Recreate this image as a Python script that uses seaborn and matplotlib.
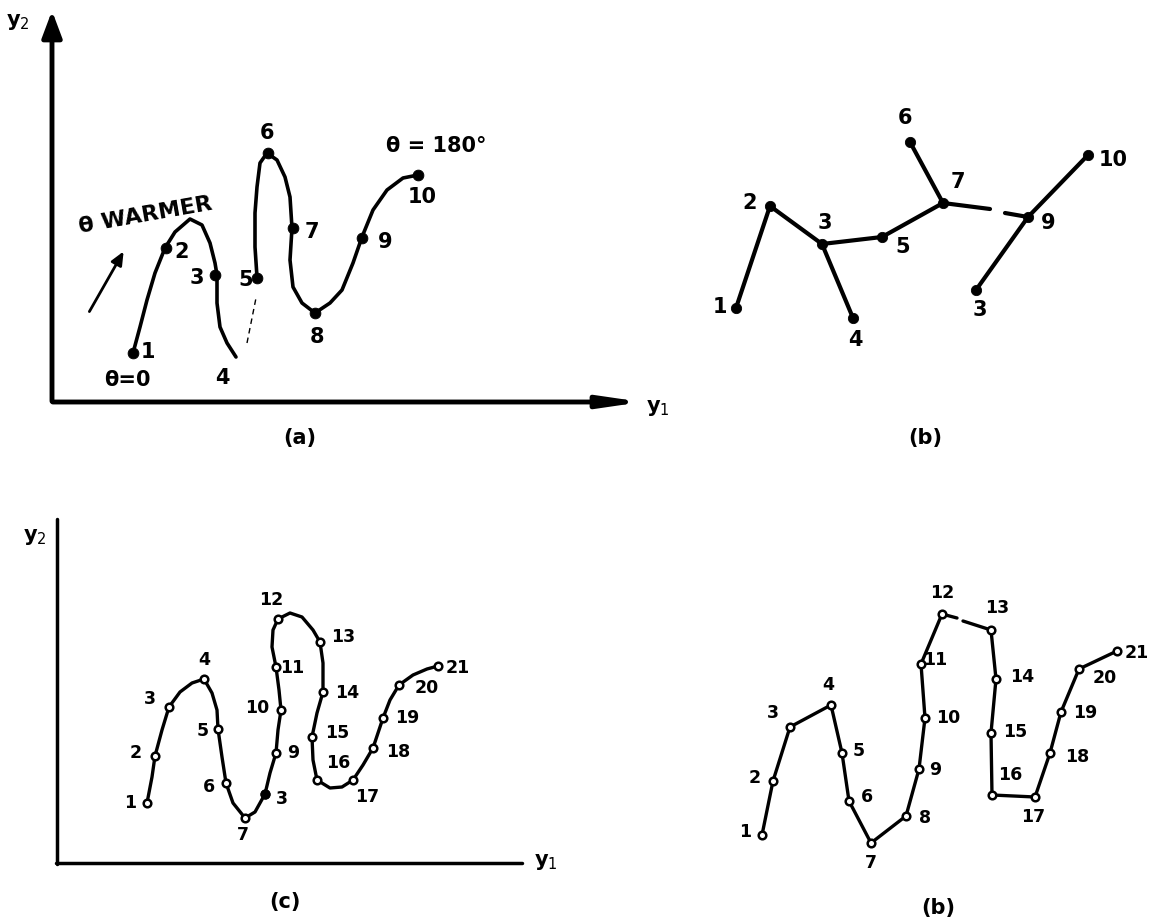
'''
Recreates the four-panel sketch of y1-y2 trajectories (a, b, c, b)
'''
import pandas as pd
import seaborn as sns
import matplotlib.pyplot as plt

# ---- panel (a): smooth trajectory with 10 labelled samples ----
a_pts_x = [133, 166, 215, 257, 268, 293, 315, 362, 418]
a_pts_y = [353, 248, 275, 278, 153, 228, 313, 238, 175]
a_curve1_x = [133, 140, 147, 155, 165, 175, 190, 202, 210, 215, 217, 217, 220, 227, 236]
a_curve1_y = [353, 327, 300, 273, 248, 232, 219, 225, 243, 263, 275, 303, 327, 343, 357]
a_curve2_x = [257, 255, 255, 257, 260, 267, 277, 285, 290, 292, 290, 293, 302, 315, 330, 342, 353, 362,
              373, 387, 403, 418]
a_curve2_y = [277, 247, 213, 187, 163, 153, 160, 177, 197, 228, 260, 287, 303, 313, 303, 290, 263, 237,
              210, 190, 178, 175]
a_labels = ['1', '2', '3', '4', '5', '6', '7', '8', '9', '10']
a_lab_x = [148, 182, 197, 222, 246, 267, 312, 317, 385, 422]
a_lab_y = [352, 252, 278, 378, 280, 133, 232, 337, 242, 197]

# ---- panel (b) top: tree graph ----
bt_nodes_x = [736, 770, 822, 853, 882, 910, 943, 1028, 1088, 976]
bt_nodes_y = [308, 206, 244, 318, 237, 142, 203, 217, 155, 290]
bt_edges = [(0, 1), (1, 2), (2, 3), (2, 4), (4, 6), (5, 6), (7, 8), (7, 9)]
bt_stub_x = [[943, 990], [1005, 1028]]
bt_stub_y = [[203, 209], [213, 217]]
bt_labels = ['1', '2', '3', '4', '5', '6', '7', '9', '10', '3']
bt_lab_x = [720, 750, 825, 855, 903, 905, 958, 1048, 1113, 980]
bt_lab_y = [307, 203, 223, 340, 247, 118, 182, 223, 160, 310]

# ---- panel (c): smooth trajectory with 21 samples ----
c_pts_x = [147, 155, 169, 204, 218, 226, 245, 265, 276, 281, 276, 278, 320, 323, 312, 317, 353, 373,
           383, 399, 438]
c_pts_y = [803, 756, 707, 679, 729, 783, 818, 794, 753, 710, 667, 619, 642, 692, 737, 780, 780, 748,
           718, 685, 666]
c_curve_x = [147, 152, 155, 162, 169, 180, 192, 204, 212, 217, 218, 222, 226, 233, 245, 255, 265, 270,
             276, 278, 281, 279, 276, 272, 273, 278, 290, 302, 313, 320, 323, 323, 317, 312, 313, 317,
             330, 342, 353, 363, 373, 378, 383, 390, 399, 413, 427, 438]
c_curve_y = [803, 777, 756, 730, 707, 692, 683, 679, 693, 710, 729, 757, 783, 803, 818, 812, 794, 773,
             753, 730, 710, 690, 667, 647, 630, 619, 613, 617, 630, 642, 663, 692, 713, 737, 760, 780,
             788, 787, 780, 765, 748, 733, 718, 700, 685, 675, 669, 666]
c_labels = ['1', '2', '3', '4', '5', '6', '7', '3', '9', '10', '11', '12', '13', '14', '15', '16', '17',
            '18', '19', '20', '21']
c_lab_x = [130, 136, 150, 204, 203, 209, 243, 282, 293, 257, 292, 271, 343, 347, 337, 338, 367, 398,
           407, 427, 458]
c_lab_y = [803, 753, 699, 660, 731, 787, 835, 799, 753, 708, 668, 600, 637, 693, 733, 763, 797, 752,
           718, 688, 668]

# ---- panel (b) bottom: polyline through 21 samples ----
bb_pts_x = [762, 773, 790, 831, 842, 849, 871, 906, 919, 925, 921, 942, 991, 996, 991, 992, 1035, 1050,
            1061, 1079, 1117]
bb_pts_y = [835, 781, 727, 705, 753, 801, 843, 816, 769, 718, 664, 614, 630, 679, 733, 795, 797, 753,
            712, 669, 651]
bb_labels = [str(i) for i in range(1, 22)]
bb_lab_x = [745, 755, 773, 828, 859, 867, 871, 925, 935, 948, 935, 942, 997, 1022, 1015, 1010, 1033,
            1077, 1085, 1105, 1137]
bb_lab_y = [832, 778, 713, 685, 751, 797, 863, 818, 770, 718, 660, 593, 608, 677, 732, 775, 817, 757,
            713, 678, 653]

sns.set_style('white')
plt.rcParams['font.family'] = ['DejaVu Sans']

fig = plt.figure(figsize=(11.51, 9.21), dpi=100)
ax = fig.add_axes([0, 0, 1, 1])
ax.set_xlim(0, 1151)
ax.set_ylim(921, 0)
ax.axis('off')

K = 'black'
big = dict(fontsize=15, fontweight='bold', ha='center', va='center', color=K)
small = dict(fontsize=12.5, fontweight='bold', ha='center', va='center', color=K)

# ---------- (a) ----------
ax.annotate('', xy=(52, 8), xytext=(52, 404),
            arrowprops=dict(arrowstyle='-|>,head_length=1.6,head_width=0.6', lw=3.5, color=K))
ax.annotate('', xy=(645, 402), xytext=(50, 402),
            arrowprops=dict(arrowstyle='-|>,head_length=2.4,head_width=0.35', lw=3.5, color=K))
ax.text(18, 22, 'y$_2$', **big)
ax.text(658, 408, 'y$_1$', **big)
sns.lineplot(x=a_curve1_x, y=a_curve1_y, sort=False, estimator=None, color=K, lw=2.6, ax=ax)
sns.lineplot(x=a_curve2_x, y=a_curve2_y, sort=False, estimator=None, color=K, lw=2.6, ax=ax)
ax.plot([247, 256], [343, 298], color=K, lw=1, ls=(0, (4, 3)))
sns.scatterplot(x=a_pts_x, y=a_pts_y, color=K, s=60, edgecolor=K, ax=ax, zorder=5)
for t, x, y in zip(a_labels, a_lab_x, a_lab_y):
    ax.text(x, y, t, **big)
ax.text(127, 380, 'θ=0', **big)
ax.text(436, 146, 'θ = 180°', **big)
ax.text(145, 215, 'θ WARMER', rotation=10, fontsize=16, fontweight='bold', ha='center', va='center',
        color=K)
ax.annotate('', xy=(125, 249), xytext=(88, 314),
            arrowprops=dict(arrowstyle='-|>,head_length=0.8,head_width=0.35', lw=2, color=K))
ax.text(300, 438, '(a)', **big)

# ---------- (b) top ----------
for i, j in bt_edges:
    ax.plot([bt_nodes_x[i], bt_nodes_x[j]], [bt_nodes_y[i], bt_nodes_y[j]], color=K, lw=3)
for xs, ys in zip(bt_stub_x, bt_stub_y):
    ax.plot(xs, ys, color=K, lw=3)
sns.scatterplot(x=bt_nodes_x, y=bt_nodes_y, color=K, s=55, edgecolor=K, ax=ax, zorder=5)
for t, x, y in zip(bt_labels, bt_lab_x, bt_lab_y):
    ax.text(x, y, t, **big)
ax.text(925, 438, '(b)', **big)

# ---------- (c) ----------
ax.plot([57, 57], [519, 864], color=K, lw=2.5)
ax.plot([56, 522], [863, 863], color=K, lw=2.5)
ax.text(35, 537, 'y$_2$', **big)
ax.text(546, 862, 'y$_1$', **big)
sns.lineplot(x=c_curve_x, y=c_curve_y, sort=False, estimator=None, color=K, lw=2.4, ax=ax)
sns.scatterplot(x=c_pts_x, y=c_pts_y, color='white', s=30, edgecolor=K, linewidth=1.8, ax=ax, zorder=5)
ax.scatter([c_pts_x[7]], [c_pts_y[7]], color=K, s=40, zorder=6)
for t, x, y in zip(c_labels, c_lab_x, c_lab_y):
    ax.text(x, y, t, **small)
ax.text(285, 902, '(c)', **big)

# ---------- (b) bottom ----------
sns.lineplot(x=bb_pts_x[:12] + [957], y=bb_pts_y[:12] + [618], sort=False, estimator=None,
             color=K, lw=2.4, ax=ax)
sns.lineplot(x=[963] + bb_pts_x[12:], y=[621] + bb_pts_y[12:], sort=False, estimator=None,
             color=K, lw=2.4, ax=ax)
sns.scatterplot(x=bb_pts_x, y=bb_pts_y, color='white', s=30, edgecolor=K, linewidth=1.8, ax=ax,
                zorder=5)
for t, x, y in zip(bb_labels, bb_lab_x, bb_lab_y):
    ax.text(x, y, t, **small)
ax.text(938, 908, '(b)', **big)

plt.savefig('out.png', dpi=100)
